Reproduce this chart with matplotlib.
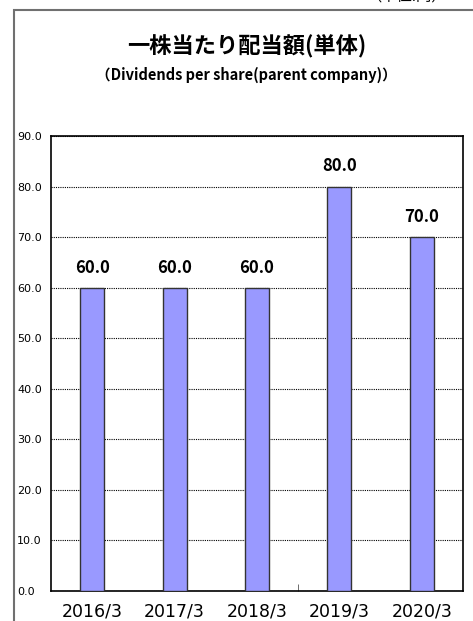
import matplotlib
matplotlib.use("Agg")
import matplotlib.pyplot as plt  # noqa: E402
from matplotlib.patches import Rectangle  # noqa: E402

plt.rcParams["font.family"] = ["Noto Sans CJK JP", "DejaVu Sans"]

years = ["2016/3", "2017/3", "2018/3", "2019/3", "2020/3"]
dividends = [60.0, 60.0, 60.0, 80.0, 70.0]
y_ticks = [0, 10, 20, 30, 40, 50, 60, 70, 80, 90]

title = "一株当たり配当額(単体)"
subtitle = "（Dividends per share(parent company)）"
unit_note = "（単位:円）"

fig = plt.figure(figsize=(4.73, 6.21), dpi=100)

# outer frame (only top and left edges are visible)
fig.patches.append(Rectangle((14 / 473, -0.1), 1.2, 1 - 10 / 621 + 0.1,
                             transform=fig.transFigure, fill=False,
                             edgecolor="#707070", linewidth=1.5))

fig.text(0.86, 1 - 5 / 621, unit_note, ha="center", va="bottom", fontsize=11)
fig.text(247 / 473, 1 - 47 / 621, title, ha="center", va="center",
         fontsize=16, fontweight="bold")
fig.text(246 / 473, 1 - 75 / 621, subtitle, ha="center", va="center",
         fontsize=10.5, fontweight="bold")

ax = fig.add_axes([51 / 473, 30 / 621, 412 / 473, 455 / 621])
x = range(len(years))
bars = ax.bar(x, dividends, width=0.29, color="#9999FF",
              edgecolor="#333333", linewidth=1, zorder=3)

for b, v in zip(bars, dividends):
    ax.text(b.get_x() + b.get_width() / 2, v + 2.2, f"{v:.1f}",
            ha="center", va="bottom", fontsize=12, fontweight="bold")

ax.set_xlim(-0.5, len(years) - 0.5)
ax.set_ylim(0, 90)
ax.set_yticks(y_ticks)
ax.set_yticklabels([f"{t:.1f}" for t in y_ticks], fontsize=8,
                   family="DejaVu Sans", ha="left")
ax.set_xticks(list(x))
ax.set_xticklabels(years, fontsize=12.5, family="DejaVu Sans")
ax.set_xticks([2.5], minor=True)
ax.tick_params(axis="y", length=0, pad=24.5)
ax.tick_params(axis="x", which="major", length=0, pad=8)
ax.tick_params(axis="x", which="minor", direction="in", length=5,
               color="#555555")

ax.yaxis.grid(True, color="black", linestyle=(0, (1, 1)), linewidth=0.8)
ax.set_axisbelow(True)
for s in ax.spines.values():
    s.set_color("black")
    s.set_linewidth(1.2)

fig.savefig("out.png", dpi=100)
